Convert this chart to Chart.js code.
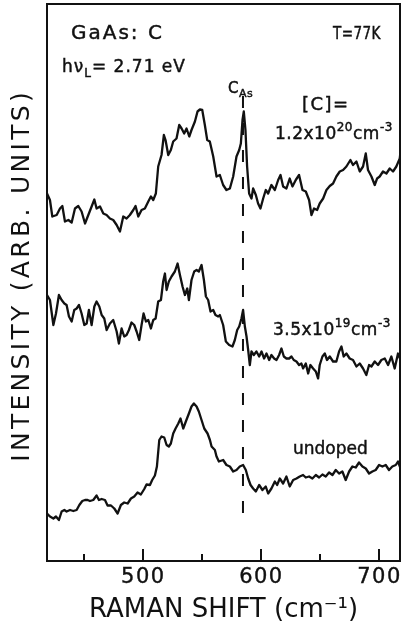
<!DOCTYPE html>
<html>
<head>
<meta charset="utf-8">
<script src="https://cdn.jsdelivr.net/npm/chart.js@4/dist/chart.umd.min.js"></script>
<style>
  html, body { margin: 0; padding: 0; background: #fff; }
  canvas { display: block; }
</style>
</head>
<body>
<canvas id="raman" width="402" height="627"></canvas>
<script>
// Raman spectra of carbon-doped GaAs at 77 K (intensity in arbitrary units, curves offset)
const shiftHigh = [
  419.0,421.5,423.5,427.2,430.0,432.0,434.2,437.1,439.9,442.7,445.5,448.3,451.2,454.0,456.8,459.1,461.0,463.9,466.7,469.5,
  472.3,475.1,478.0,480.8,483.6,486.4,489.2,492.1,494.0,496.3,499.1,501.9,504.8,507.0,509.0,511.2,513.2,516.0,518.0,519.4,
  521.7,523.9,525.9,528.7,531.0,533.0,535.2,537.2,539.5,541.4,544.3,546.5,548.5,550.5,552.7,554.7,556.9,559.8,562.6,565.4,
  568.2,571.0,573.9,576.7,579.5,581.8,583.2,584.6,585.7,587.1,588.5,590.2,592.2,593.6,595.9,597.8,599.8,602.1,604.3,606.3,
  609.1,612.0,614.8,616.8,619.0,621.8,624.6,626.9,629.7,632.5,635.4,638.2,641.0,643.0,645.2,647.8,650.0,652.9,655.7,658.5,
  661.3,664.1,667.0,669.8,672.6,676.0,678.2,681.1,683.9,686.7,689.0,690.9,693.8,696.6,698.6,700.8,703.6,706.5,709.3,712.1,
  714.9,717.8,718.5
];
const intensityHigh = [
  73.5,72.2,68.9,69.2,70.5,71.0,67.9,68.2,67.7,70.5,71.0,69.9,67.5,69.2,70.9,72.3,70.5,70.9,69.5,69.2,
  68.5,68.2,67.2,65.9,68.9,68.5,69.2,70.2,71.0,68.9,70.2,70.5,71.9,72.9,72.2,73.5,78.9,81.2,85.2,84.2,
  81.2,82.2,83.9,84.5,87.2,86.5,85.5,86.5,84.9,86.2,87.9,89.9,90.3,90.2,87.2,84.2,83.9,80.9,76.9,77.2,
  75.2,74.2,74.5,76.9,80.9,82.2,83.5,88.2,89.9,86.2,78.9,73.5,72.5,74.5,73.2,71.5,70.5,72.5,74.2,73.5,
  75.2,74.2,76.2,77.2,74.9,74.5,76.5,74.9,76.2,77.2,74.2,73.9,72.2,69.2,70.5,70.2,71.5,72.5,74.2,75.0,
  75.5,76.9,77.9,78.2,78.9,80.2,79.2,79.9,77.9,78.9,81.5,78.2,76.9,75.2,76.5,76.9,77.9,77.5,78.5,77.9,
  78.9,80.5,82.0
];

const shiftMid = [
  419.0,421.5,424.4,426.6,429.1,431.4,433.7,435.6,437.6,439.9,442.1,444.1,446.1,448.3,450.6,452.6,454.5,456.8,459.1,461.0,
  463.3,465.3,467.5,469.5,472.3,475.1,478.0,479.9,482.2,484.4,486.4,488.4,490.6,492.9,494.9,497.1,499.1,500.8,502.8,504.8,
  507.0,509.0,511.0,513.2,515.5,517.4,518.9,520.3,522.2,524.5,527.3,529.6,531.6,533.8,535.8,537.8,539.2,541.4,543.7,545.7,
  547.6,549.9,551.9,553.6,555.5,557.5,559.8,561.7,564.0,
  565.4,568.2,570.5,573.3,576.1,578.1,580.1,581.8,583.7,585.1,586.6,588.0,589.4,590.8,592.2,594.2,596.4,598.7,600.7,602.9,
  604.9,607.2,609.1,611.4,613.4,615.6,617.6,619.6,621.8,624.1,626.1,628.0,630.3,632.5,634.5,635.9,638.2,640.2,642.1,644.4,
  646.7,648.6,650.0,652.3,654.3,656.2,658.5,661.3,664.1,666.4,668.4,670.3,672.6,675.4,678.2,681.1,683.9,686.7,689.5,691.8,
  693.8,696.6,699.4,702.2,705.1,707.9,710.7,713.5,716.3,718.5
];
const intensityMid = [
  53.2,52.2,47.2,49.5,53.2,52.2,51.5,51.2,48.9,47.9,50.2,50.5,51.2,49.5,47.2,47.5,50.2,47.2,50.9,51.9,
  50.9,49.2,48.5,46.2,47.5,48.2,45.9,43.5,46.5,44.9,45.2,46.2,47.7,47.2,45.9,44.2,47.2,49.5,47.9,48.2,
  46.5,48.2,48.5,51.9,52.2,55.9,57.5,54.2,55.9,56.9,57.9,59.5,57.2,54.9,53.2,54.5,52.2,56.2,57.9,58.2,
  57.9,59.2,56.2,52.9,52.2,49.9,50.2,49.2,48.9,
  49.2,47.2,43.9,43.2,42.9,44.2,46.2,46.9,48.5,50.2,46.9,44.9,42.2,39.2,41.9,41.2,41.9,40.9,41.9,40.5,
  41.5,40.2,41.2,40.5,40.2,41.2,42.5,40.9,40.5,40.5,40.9,40.2,39.9,39.2,39.5,38.5,39.5,37.5,39.2,38.5,
  37.9,36.5,39.2,40.9,41.5,40.2,40.9,39.9,39.9,41.9,42.9,40.9,41.5,40.5,40.2,38.9,39.5,38.5,37.2,39.2,
  38.9,39.9,39.2,40.2,40.5,39.2,40.9,38.5,41.5,40.2
];

const shiftUndoped = [
  419.0,421.5,424.4,426.6,429.1,431.4,433.7,435.6,438.5,441.3,444.1,446.4,448.9,451.2,453.4,455.4,458.2,461.0,463.0,465.3,
  468.1,470.3,473.2,476.0,478.8,481.6,484.4,487.3,490.1,492.9,495.7,498.5,501.4,503.3,506.2,508.1,510.4,512.1,514.1,516.0,
  518.3,520.3,522.2,523.9,525.9,527.9,530.2,532.1,534.4,536.6,539.2,541.4,543.4,545.7,547.6,549.9,552.2,555.0,557.0,558.4,
  561.2,562.6,564.6,
  568.2,571.0,573.9,576.7,579.5,582.3,585.1,587.4,589.4,591.4,593.6,595.9,598.7,601.5,604.3,606.3,609.1,612.0,613.9,616.2,
  619.0,621.8,624.6,627.5,630.3,633.1,635.9,638.2,641.0,643.8,646.7,649.5,652.3,655.1,657.9,660.8,663.6,666.4,669.2,672.0,
  674.9,677.7,680.5,683.3,686.2,689.0,691.8,694.6,697.4,700.3,703.1,705.9,708.7,711.5,714.4,716.3,718.5
];
const intensityUndoped = [
  9.5,8.9,8.5,8.9,8.2,9.9,10.2,9.9,10.2,10.0,10.2,11.2,12.0,12.2,12.2,12.0,12.2,13.1,12.2,12.4,
  12.2,11.1,11.1,10.5,9.5,11.2,11.7,11.5,12.5,12.9,13.7,13.3,14.4,15.3,15.2,16.2,17.1,18.9,24.2,24.9,
  24.7,23.2,22.9,23.5,25.5,26.5,27.5,28.5,26.5,27.9,29.5,30.9,31.5,30.9,29.9,28.2,26.5,25.5,24.2,22.9,
  22.2,20.9,19.9,
  20.2,19.2,18.9,17.9,18.2,18.9,19.2,18.2,16.5,15.2,14.5,13.9,15.2,14.2,14.9,13.5,14.5,15.9,15.2,16.5,
  15.5,16.9,14.9,16.2,16.5,16.9,17.2,16.7,16.9,16.5,17.2,16.7,17.3,16.9,17.7,17.2,18.2,17.5,17.9,16.2,
  17.9,18.9,18.7,19.7,18.9,18.5,17.5,17.9,18.2,19.2,18.9,19.2,18.2,18.9,19.2,19.9,18.5
];

// C_As local vibrational mode marker
const cAsShift = [585, 585];
const cAsIntensity = [93.0, 9.6];

// x axis ticks (minor ticks carry no label)
const xTickValues = [450, 500, 550, 600, 650, 700];
const xTickLabels = ['', '500', '', '600', '', '700'];

const FONT = '"DejaVu Sans", "Liberation Sans", sans-serif';
const INK = '#111';

const toPoints = (xs, ys) => xs.map((x, i) => ({ x: x, y: ys[i] }));

const spectrumStyle = {
  borderColor: INK,
  borderWidth: 2.3,
  pointRadius: 0,
  tension: 0,
  fill: false,
  borderJoinStyle: 'round'
};

function inkText(ctx, text, x, y, weight) {
  ctx.fillText(text, x, y);
  if (weight) {
    ctx.lineWidth = weight;
    ctx.strokeText(text, x, y);
  }
}

// frame around the plot, inward ticks and tick labels on the bottom axis
const framePlugin = {
  id: 'frame',
  beforeDatasetsDraw(chart) {
    const { ctx, chartArea: a, scales } = chart;
    ctx.save();
    ctx.strokeStyle = INK;
    ctx.fillStyle = INK;
    ctx.lineWidth = 2;
    ctx.strokeRect(a.left, a.top, a.right - a.left, a.bottom - a.top);
    xTickValues.forEach((v, i) => {
      const px = Math.round(scales.x.getPixelForValue(v));
      const len = xTickLabels[i] ? 12 : 7;
      ctx.beginPath();
      ctx.moveTo(px, a.bottom);
      ctx.lineTo(px, a.bottom - len);
      ctx.stroke();
    });
    ctx.font = '21px ' + FONT;
    ctx.textAlign = 'center';
    ctx.textBaseline = 'middle';
    ctx.letterSpacing = '1.5px';
    xTickValues.forEach((v, i) => {
      if (!xTickLabels[i]) return;
      const px = scales.x.getPixelForValue(v) + 0.75;
      inkText(ctx, xTickLabels[i], px, a.bottom + 17, 0.4);
    });
    ctx.restore();
  }
};

// labels inside the plot: [text, fontSize, baselineShift]
const annotations = [
  { x: 71,  y: 39,  spacing: 2,   sx: 1,    parts: [['GaAs: C', 20, 0]] },
  { x: 333, y: 39,  spacing: 0.5, sx: 0.8,  parts: [['T=77K', 17, 0]] },
  { x: 62,  y: 72,  spacing: 1,   sx: 1,    parts: [['h\u03BD', 17, 0], ['L', 12, 5], ['= 2.71 eV', 17, 0]] },
  { x: 228, y: 93,  spacing: 0.5, sx: 1,    parts: [['C', 15, 0], ['As', 11, 4]] },
  { x: 302, y: 110, spacing: 1.5, sx: 1,    parts: [['[C]=', 18, 0]] },
  { x: 275, y: 139, spacing: 0.5, sx: 1,    parts: [['1.2x10', 17, 0], ['20', 12, -8], ['cm', 17, 0], ['-3', 12, -8]] },
  { x: 273, y: 335, spacing: 0.5, sx: 1,    parts: [['3.5x10', 17, 0], ['19', 12, -8], ['cm', 17, 0], ['-3', 12, -8]] },
  { x: 293, y: 454, spacing: 0,   sx: 1,    parts: [['undoped', 17, 0]] }
];

const textPlugin = {
  id: 'plotText',
  afterDraw(chart) {
    const ctx = chart.ctx;
    ctx.save();
    ctx.fillStyle = INK;
    ctx.strokeStyle = INK;
    ctx.textBaseline = 'alphabetic';
    ctx.textAlign = 'left';
    annotations.forEach(a => {
      ctx.save();
      ctx.translate(a.x, a.y);
      ctx.scale(a.sx, 1);
      ctx.letterSpacing = a.spacing + 'px';
      let cx = 0;
      a.parts.forEach(([t, size, dy]) => {
        ctx.font = size + 'px ' + FONT;
        inkText(ctx, t, cx, dy, 0.45);
        cx += ctx.measureText(t).width;
      });
      ctx.restore();
    });
    // vertical axis title
    ctx.translate(22, 277);
    ctx.rotate(-Math.PI / 2);
    ctx.textAlign = 'center';
    ctx.textBaseline = 'middle';
    ctx.letterSpacing = '3.3px';
    ctx.font = '25px ' + FONT;
    ctx.fillText('INTENSITY (ARB. UNITS)', 1.6, 0);
    ctx.restore();
  }
};

Chart.defaults.font.family = FONT;

new Chart(document.getElementById('raman'), {
  type: 'line',
  data: {
    datasets: [
      Object.assign({ data: toPoints(shiftHigh, intensityHigh) }, spectrumStyle),
      Object.assign({ data: toPoints(shiftMid, intensityMid) }, spectrumStyle),
      Object.assign({ data: toPoints(shiftUndoped, intensityUndoped) }, spectrumStyle),
      {
        data: toPoints(cAsShift, cAsIntensity),
        borderColor: INK,
        borderWidth: 2,
        borderDash: [12, 15],
        pointRadius: 0,
        fill: false
      }
    ]
  },
  options: {
    responsive: false,
    animation: false,
    devicePixelRatio: 1,
    layout: { padding: { top: 4, right: 2, left: 0, bottom: 0 } },
    plugins: { legend: { display: false }, tooltip: { enabled: false } },
    scales: {
      x: {
        type: 'linear',
        min: 419,
        max: 718,
        grid: { display: false, drawTicks: false },
        border: { display: false },
        ticks: { display: false, stepSize: 50, includeBounds: false },
        title: {
          display: true,
          text: 'RAMAN SHIFT (cm\u207B\u00B9)',
          color: INK,
          font: { family: FONT, size: 26 },
          padding: { top: 0, bottom: 1 }
        },
        afterFit: (s) => { s.height = 66; }
      },
      y: {
        min: 0,
        max: 111.4,
        grid: { display: false, drawTicks: false },
        border: { display: false },
        ticks: { display: false },
        afterFit: (s) => { s.width = 47; }
      }
    }
  },
  plugins: [framePlugin, textPlugin]
});
</script>
</body>
</html>
